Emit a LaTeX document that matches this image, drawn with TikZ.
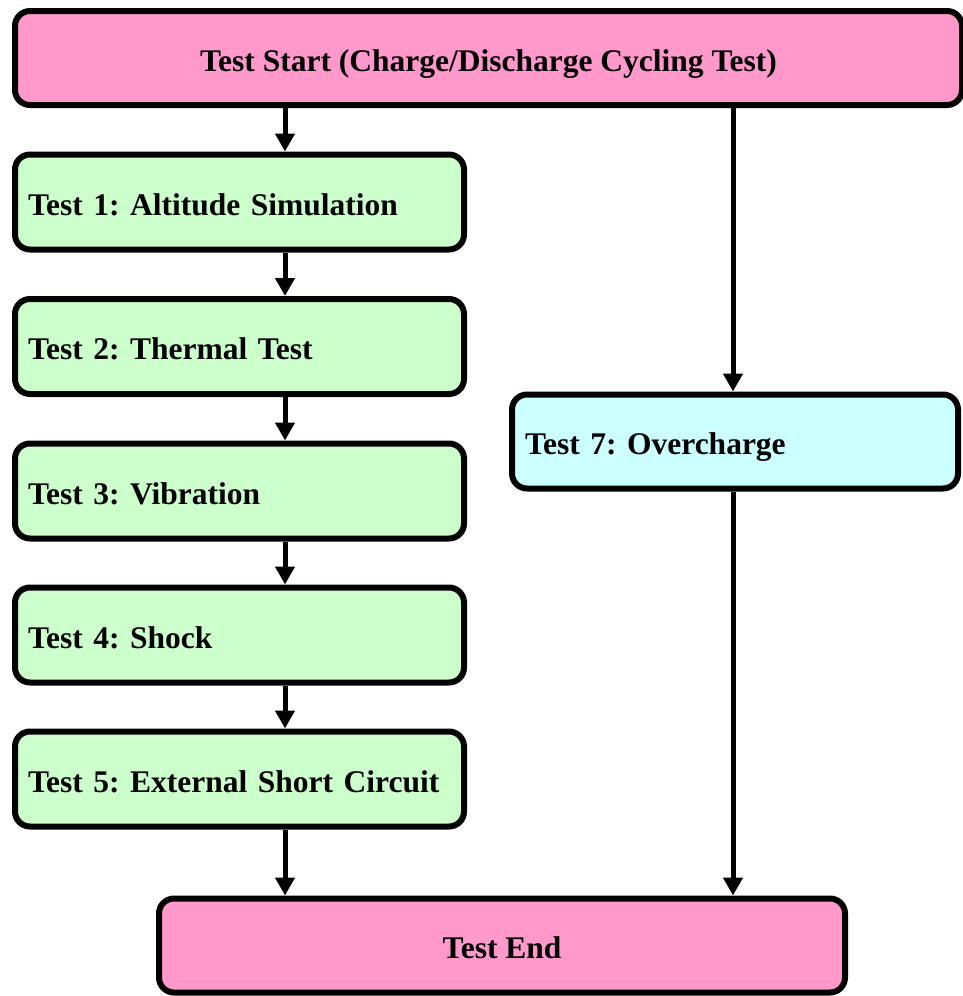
\documentclass[tikz,border=0pt]{standalone}
\usepackage{fontspec}
\setmainfont{Liberation Serif}
\usetikzlibrary{arrows.meta,positioning}

\tikzset{base box/.style={
		draw=black, line width=6pt, rounded corners=15pt,
		font=\fontsize{31.5}{38}\selectfont\bfseries\frenchspacing,
		inner sep=0pt, text height=26pt, text depth=0pt
	},
	end box/.style={base box, fill=endpink, minimum height=94pt},
	left box/.style={base box, fill=leftgreen, minimum height=95pt,
		text width=423pt, inner xsep=13pt, align=left},
	right box/.style={base box, fill=rightcyan, minimum height=94pt,
		text width=420pt, inner xsep=13pt, align=left},
	flow/.style={line width=5pt, -{Triangle[width=19pt,length=18pt]}}
}
\definecolor{endpink}{RGB}{255,153,204}
\definecolor{leftgreen}{RGB}{204,255,204}
\definecolor{rightcyan}{RGB}{204,255,255}

\begin{document}
\begin{tikzpicture}[x=1pt, y=-1pt]
		\useasboundingbox (0,0) rectangle (963,996);
		% top and bottom
		\node [end box, minimum width=947pt] (start) at (488.5,58) {Test Start (Charge/Discharge Cycling Test)};
		\node [end box, minimum width=686pt] (end) at (502,945.5) {Test End};

		% left column
		\node [left box] (t1) at (239.5,202) {Test 1: Altitude Simulation};
		\node [left box] (t2) at (239.5,346.5) {Test 2: Thermal Test};
		\node [left box] (t3) at (239.5,491) {Test 3: Vibration};
		\node [left box] (t4) at (239.5,635) {Test 4: Shock};
		\node [left box] (t5) at (239.5,779) {Test 5: External Short Circuit};

		% right column
		\node [right box] (t7) at (735,441.5) {Test 7: Overcharge};

		\coordinate (lx) at (285,0);
		\coordinate (rx) at (733,0);

		\draw [flow] (start.south -| lx) -- (t1.north -| lx);
		\draw [flow] (t1.south -| lx) -- (t2.north -| lx);
		\draw [flow] (t2.south -| lx) -- (t3.north -| lx);
		\draw [flow] (t3.south -| lx) -- (t4.north -| lx);
		\draw [flow] (t4.south -| lx) -- (t5.north -| lx);
		\draw [flow] (t5.south -| lx) -- (end.north -| lx);

		\draw [flow] (start.south -| rx) -- (t7.north -| rx);
		\draw [flow] (t7.south -| rx) -- (end.north -| rx);
\end{tikzpicture}
\end{document}
